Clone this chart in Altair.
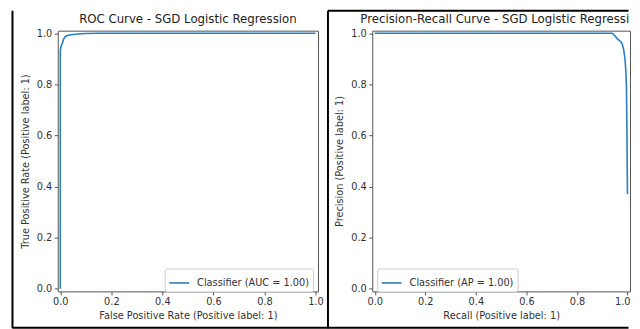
import altair as alt
import pandas as pd

# ---- data ----
roc_fpr = [0.0, 0.0, 0.002, 0.005, 0.008, 0.012, 0.018, 0.025, 0.035, 0.05, 0.07, 0.1, 0.15, 1.0]
roc_tpr = [0.0, 0.93, 0.945, 0.955, 0.96, 0.975, 0.985, 0.99, 0.993, 0.995, 0.997, 0.999, 1.0, 1.0]

pr_recall = [0.0, 0.94, 0.95, 0.96, 0.975, 0.98, 0.985, 0.99, 0.993, 0.996, 0.998, 1.0]
pr_precision = [1.0, 1.0, 0.99, 0.978, 0.966, 0.955, 0.935, 0.9, 0.86, 0.79, 0.6, 0.37]

tick_values = [0.0, 0.2, 0.4, 0.6, 0.8, 1.0]

roc_title = "ROC Curve - SGD Logistic Regression"
pr_title = "Precision-Recall Curve - SGD Logistic Regression"
roc_label = "Classifier (AUC = 1.00)"
pr_label = "Classifier (AP = 1.00)"
roc_xlabel = "False Positive Rate (Positive label: 1)"
roc_ylabel = "True Positive Rate (Positive label: 1)"
pr_xlabel = "Recall (Positive label: 1)"
pr_ylabel = "Precision (Positive label: 1)"

LINE = "#2a7fc0"
TXT = "#333333"
FONT = "DejaVu Sans"

roc_df = pd.DataFrame({"x": roc_fpr, "y": roc_tpr, "i": range(len(roc_fpr)), "s": roc_label})
pr_df = pd.DataFrame({"x": pr_recall, "y": pr_precision, "i": range(len(pr_recall)), "s": pr_label})

LW, RW, H = 261.5, 259, 262


def axis_x(title, w, squeeze_last=False):
    extra = {}
    if squeeze_last:
        extra = dict(labelAlign=alt.ExprRef("datum.value >= 1 ? 'right' : 'center'"),
                     labelOffset=alt.ExprRef("datum.value >= 1 ? 2.5 : 0"))
    return alt.Axis(title=title, values=tick_values, format=".1f", grid=False, domain=False,
                    tickSize=3.5, tickColor="#555", labelPadding=2, labelFontSize=9.8,
                    labelColor=TXT, labelFont=FONT, titleFont=FONT, titleFontSize=9.8,
                    titleColor=TXT, titleFontWeight="normal", titleX=w / 2, titleY=24,
                    titleBaseline="middle", titleAlign="center", **extra)


def axis_y(title, off):
    return alt.Axis(title=title, values=tick_values, format=".1f", grid=False, domain=False,
                    tickSize=3.5, tickColor="#555", labelPadding=2.5, labelFontSize=9.8,
                    labelColor=TXT, labelFont=FONT, titleFont=FONT, titleFontSize=9.8,
                    titleColor=TXT, titleFontWeight="normal", titleX=off, titleY=H / 2,
                    titleAngle=-90, titleBaseline="middle", titleAlign="center")


def legend(lx):
    return alt.Legend(title=None, orient="none", legendX=lx, legendY=239, symbolType="stroke",
                      symbolSize=400, symbolStrokeWidth=1.6, labelFontSize=9.8, labelFont=FONT,
                      labelColor=TXT, padding=3.5, strokeColor="#cccccc", fillColor="white",
                      cornerRadius=2, labelOffset=7)


def curve(df, label, xt, yt, w, yoff, lx, squeeze_last=False):
    return alt.Chart(df).mark_line(strokeWidth=1.6).encode(
        x=alt.X("x:Q", scale=alt.Scale(domain=[-0.01, 1.01], nice=False),
                axis=axis_x(xt, w, squeeze_last)),
        y=alt.Y("y:Q", scale=alt.Scale(domain=[-0.01, 1.01], nice=False), axis=axis_y(yt, yoff)),
        order="i:Q",
        color=alt.Color("s:N", scale=alt.Scale(domain=[label], range=[LINE]), legend=legend(lx)),
    )


one = pd.DataFrame({"k": [0]})


def title_text(text, x, align, limit=0):
    kw = dict(fontSize=11.8, font=FONT, color="#222", align=align, baseline="alphabetic")
    if limit:
        kw.update(limit=limit, ellipsis="\u200b")
    return alt.Chart(one).mark_text(**kw).encode(text=alt.value(text), x=alt.value(x), y=alt.value(-8))


RIGHT_END = 573.5  # keeps the drawing inside the 640px window
border = dict(color="black", strokeWidth=2)
frame_rules = [
    alt.Chart(one).mark_rule(**border).encode(x=alt.value(-45.5), y=alt.value(-20), y2=alt.value(299)),
    alt.Chart(one).mark_rule(**border).encode(x=alt.value(-45.5), x2=alt.value(RIGHT_END), y=alt.value(298.5)),
    alt.Chart(one).mark_rule(**border).encode(x=alt.value(271.5), y=alt.value(-20), y2=alt.value(299)),
    alt.Chart(one).mark_rule(**border).encode(x=alt.value(271.5), x2=alt.value(RIGHT_END), y=alt.value(-20)),
]

left = alt.layer(
    curve(roc_df, roc_label, roc_xlabel, roc_ylabel, LW, -32.5, 107.5),
    title_text(roc_title, LW / 2, "center"),
    *frame_rules,
).properties(width=LW, height=H)

right = alt.layer(
    curve(pr_df, pr_label, pr_xlabel, pr_ylabel, RW, -33, 5, squeeze_last=True),
    title_text(pr_title, -12, "left", limit=271),
).properties(width=RW, height=H)

chart = alt.hconcat(left, right, spacing=54, bounds="flush").resolve_scale(
    color="independent").resolve_legend(color="independent").properties(
    padding={"left": 3, "top": 0, "right": 0, "bottom": 0},
    background="white",
).configure_view(stroke="#555555", strokeWidth=1)

chart.save("out.html", embed_options={"renderer": "svg", "actions": False})
